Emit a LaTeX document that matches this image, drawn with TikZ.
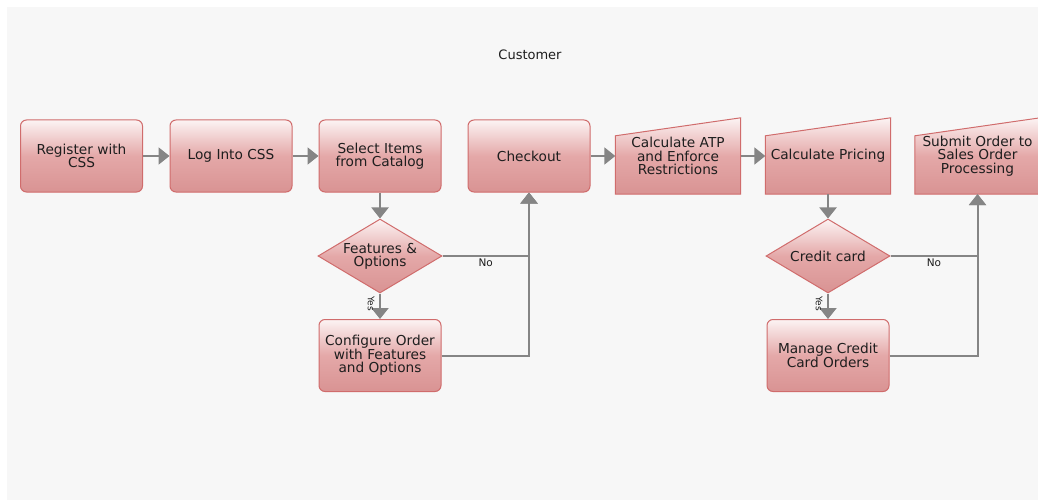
\documentclass[tikz,border=0pt]{standalone}
\usepackage{fontspec}
\setmainfont{DejaVu Sans}
\usetikzlibrary{shapes.geometric,arrows.meta,backgrounds,calc}
\definecolor{bordr}{HTML}{D06C6C}
\definecolor{ftop}{HTML}{FCF3F3}
\definecolor{fmid}{HTML}{E4A8A8}
\definecolor{fbot}{HTML}{D99393}
\definecolor{panel}{HTML}{F7F7F7}
\definecolor{conncol}{HTML}{858585}
\definecolor{txt}{HTML}{1E1E1E}
\tikzset{
  boxfill/.style={draw=bordr, line width=1pt, top color=ftop, bottom color=fbot, middle color=fmid},
  roundbox/.style={boxfill, rounded corners=6pt, minimum width=122pt, minimum height=72pt,
    align=center, text=txt, font=\fontsize{13.7}{13.3}\selectfont, inner sep=1pt},
  manualbox/.style={minimum width=125pt, minimum height=76pt, inner sep=1pt,
    align=center, text=txt, font=\fontsize{13.7}{13.3}\selectfont},
  decbox/.style={boxfill, diamond, minimum width=124pt, minimum height=74pt, inner sep=0pt},
  dectext/.style={align=center, text=txt, font=\fontsize{13.7}{13.3}\selectfont, inner sep=0pt},
  conn/.style={draw=conncol, line width=2pt, -{Triangle[length=11pt,width=17pt]}},
  lbl/.style={text=txt, font=\fontsize{10.5}{11}\selectfont, inner sep=1pt},
  yeslbl/.style={text=txt, font=\fontsize{9}{10}\selectfont, inner sep=0pt, rotate=-90},
}
\begin{document}
\begin{tikzpicture}
\useasboundingbox (0,0) rectangle (1038pt,-500pt);
\clip (0,0) rectangle (1038pt,-500pt);
\begin{scope}[x=1pt,y=1pt]
\begin{scope}[on background layer]
  \fill[white] (0,0) rectangle (1038,-500);
  \fill[panel] (7,-7) rectangle (1038,-500);
\end{scope}

\node[text=txt, font=\fontsize{13}{14}\selectfont] (title) at (530,-55) {Customer};

\node[roundbox] (reg) at (81.5,-156) {Register with\\CSS};
\node[roundbox] (log) at (231,-156) {Log Into CSS};
\node[roundbox] (sel) at (380,-156) {Select Items\\from Catalog};
\node[roundbox] (chk) at (529,-156) {Checkout};

\node[manualbox] (atp) at (678,-156) {Calculate ATP\\and Enforce\\Restrictions};
\node[manualbox] (pr) at (828,-156) {Calculate Pricing};
\node[manualbox] (sub) at (977.5,-156) {Submit Order to\\Sales Order\\Processing};
\begin{scope}[on background layer]
  \foreach \n in {atp,pr,sub}{
    \path[boxfill] (\n.south west) -- (\n.south east) -- (\n.north east)
      -- ($(\n.north west)+(0,-18)$) -- cycle;
  }
\end{scope}

\node[decbox] (feat) at (380,-256) {};
\node[dectext] at (feat) {Features \&\\Options};
\node[roundbox] (conf) at (380,-355.5) {Configure Order\\with Features\\and Options};

\node[decbox] (cc) at (828,-256) {};
\node[dectext] at (cc) {Credit card};
\node[roundbox] (man) at (828,-355.5) {Manage Credit\\Card Orders};

\draw[conn] (reg) -- (log);
\draw[conn] (log) -- (sel);
\draw[conn] (sel) -- (feat);
\draw[conn] (feat) -- (conf);
\node[yeslbl] at ($(feat.south)!0.4!(conf.north)+(-9,0)$) {Yes};
\draw[conn] (feat.east) -| node[lbl, pos=0.25, below=1pt] {No} (chk.south);
\draw[conn] (conf.east) -| (chk.south);
\draw[conn] (chk) -- (atp);
\draw[conn] (atp) -- (pr);
\draw[conn] (pr) -- (cc);
\draw[conn] (cc) -- (man);
\node[yeslbl] at ($(cc.south)!0.4!(man.north)+(-9,0)$) {Yes};
\draw[conn] (cc.east) -| node[lbl, pos=0.25, below=1pt] {No} (sub.south);
\draw[conn] (man.east) -| (sub.south);
\end{scope}
\end{tikzpicture}
\end{document}
